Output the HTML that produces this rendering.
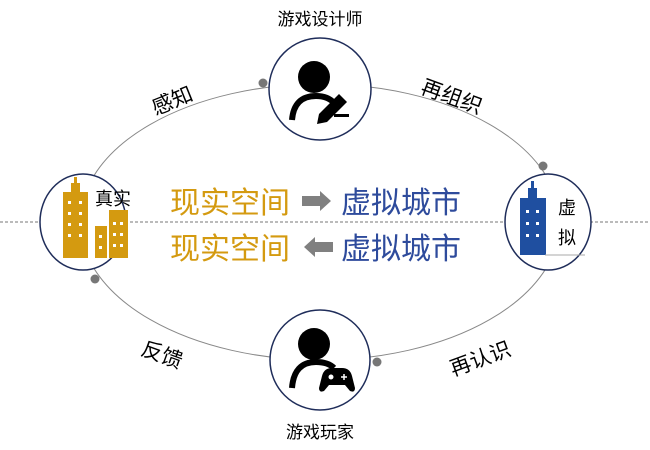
<!DOCTYPE html><html><head><meta charset="utf-8"><style>
body{margin:0;width:650px;height:445px;background:#fff;overflow:hidden;font-family:"Liberation Sans","Noto Sans CJK SC",sans-serif}
</style></head><body>
<svg width="650" height="445" viewBox="0 0 650 445" xmlns="http://www.w3.org/2000/svg" font-family="Liberation Sans, Noto Sans CJK SC, sans-serif">
<line x1="0" y1="222" x2="650" y2="222" stroke="#777" stroke-dasharray="3,2" stroke-width="1"/>
<ellipse cx="320" cy="222" rx="240" ry="138" fill="none" stroke="#888" stroke-width="1"/>
<!-- top circle -->
<circle cx="320" cy="89" r="51" fill="#fff" stroke="#1f2d5a" stroke-width="1.5"/>
<circle cx="314" cy="77" r="16" fill="#000"/>
<path d="M292 120 q2-24 24-24 q12 0 18 7" fill="none" stroke="#000" stroke-width="6"/>
<path d="M319 114 l20-20 l8 8 l-20 20 l-10 2z" fill="#000"/>
<rect x="334" y="114" width="15" height="3" fill="#000"/>
<text x="320" y="25" font-size="17" text-anchor="middle">游戏设计师</text>
<!-- bottom circle -->
<circle cx="320" cy="360" r="50" fill="#fff" stroke="#1f2d5a" stroke-width="1.5"/>
<circle cx="314" cy="344" r="16" fill="#000"/>
<path d="M292 388 q2-26 24-26 q12 0 18 6" fill="none" stroke="#000" stroke-width="6"/>
<path d="M322 376 q2-8 10-8 h10 q8 0 10 8 l3 12 q0 5-5 3 l-5-6 h-16 l-5 6 q-5 2-5-3z" fill="#000"/>
<circle cx="331" cy="377" r="2.5" fill="#fff"/>
<path d="M341 377h6M344 374v6" stroke="#fff" stroke-width="1.5"/>
<text x="320" y="438" font-size="17" text-anchor="middle">游戏玩家</text>
<!-- left circle -->
<ellipse cx="83" cy="222" rx="43" ry="48" fill="#fff" stroke="#1f2d5a" stroke-width="1.5"/>
<g fill="#d49a10">
<rect x="63" y="192" width="25" height="66"/><rect x="71" y="183" width="9" height="10"/><rect x="74" y="177" width="3" height="7"/>
<rect x="95" y="226" width="12" height="32"/><rect x="109" y="210" width="19" height="48"/>
</g>
<g fill="#fff">
<rect x="68" y="201" width="3" height="3"/><rect x="79" y="201" width="3" height="3"/>
<rect x="68" y="212" width="3" height="3"/><rect x="79" y="212" width="3" height="3"/>
<rect x="68" y="223" width="3" height="3"/><rect x="79" y="223" width="3" height="3"/>
<rect x="68" y="234" width="3" height="3"/><rect x="79" y="234" width="3" height="3"/>
<rect x="99" y="235" width="3" height="3"/><rect x="99" y="246" width="3" height="3"/>
<rect x="113" y="222" width="3" height="3"/><rect x="120" y="222" width="3" height="3"/>
<rect x="113" y="233" width="3" height="3"/><rect x="120" y="233" width="3" height="3"/>
<rect x="113" y="244" width="3" height="3"/><rect x="120" y="244" width="3" height="3"/>
</g>
<text x="95" y="205" font-size="18">真实</text>
<!-- right circle -->
<ellipse cx="548" cy="222" rx="43" ry="48" fill="#fff" stroke="#1f2d5a" stroke-width="1.5"/>
<g fill="#1f4fa0"><rect x="520" y="198" width="26" height="57"/><rect x="528" y="188" width="9" height="11"/><rect x="531" y="181" width="3" height="8"/></g>
<g fill="#fff"><rect x="526" y="210" width="3" height="3"/><rect x="536" y="210" width="3" height="3"/><rect x="526" y="222" width="3" height="3"/><rect x="536" y="222" width="3" height="3"/><rect x="526" y="234" width="3" height="3"/><rect x="536" y="234" width="3" height="3"/></g>
<line x1="545" y1="255" x2="585" y2="255" stroke="#aaa"/>
<text x="558" y="214" font-size="18">虚</text><text x="558" y="244" font-size="18">拟</text>
<!-- dots -->
<circle cx="263" cy="83" r="4.5" fill="#777"/><circle cx="543" cy="166" r="4.5" fill="#777"/>
<circle cx="95" cy="279" r="4.5" fill="#777"/><circle cx="377" cy="362" r="4.5" fill="#777"/>
<!-- center text -->
<text x="170" y="213" font-size="30" fill="#d49a10">现实空间</text>
<text x="341" y="213" font-size="30" fill="#2e4b9c">虚拟城市</text>
<text x="170" y="259" font-size="30" fill="#d49a10">现实空间</text>
<text x="341" y="259" font-size="30" fill="#2e4b9c">虚拟城市</text>
<path d="M302 196h18v-5l11 10-11 10v-5h-18z" fill="#808080"/>
<path d="M333 242h-18v-5l-11 10 11 10v-5h18z" fill="#808080"/>
<!-- labels -->
<text x="172" y="108" font-size="21" transform="rotate(-22 172 100)" text-anchor="middle">感知</text>
<text x="452" y="104" font-size="21" transform="rotate(20 452 96)" text-anchor="middle">再组织</text>
<text x="162" y="362" font-size="21" transform="rotate(20 162 355)" text-anchor="middle">反馈</text>
<text x="480" y="366" font-size="21" transform="rotate(-20 480 358)" text-anchor="middle">再认识</text>
</svg>
</body></html>
